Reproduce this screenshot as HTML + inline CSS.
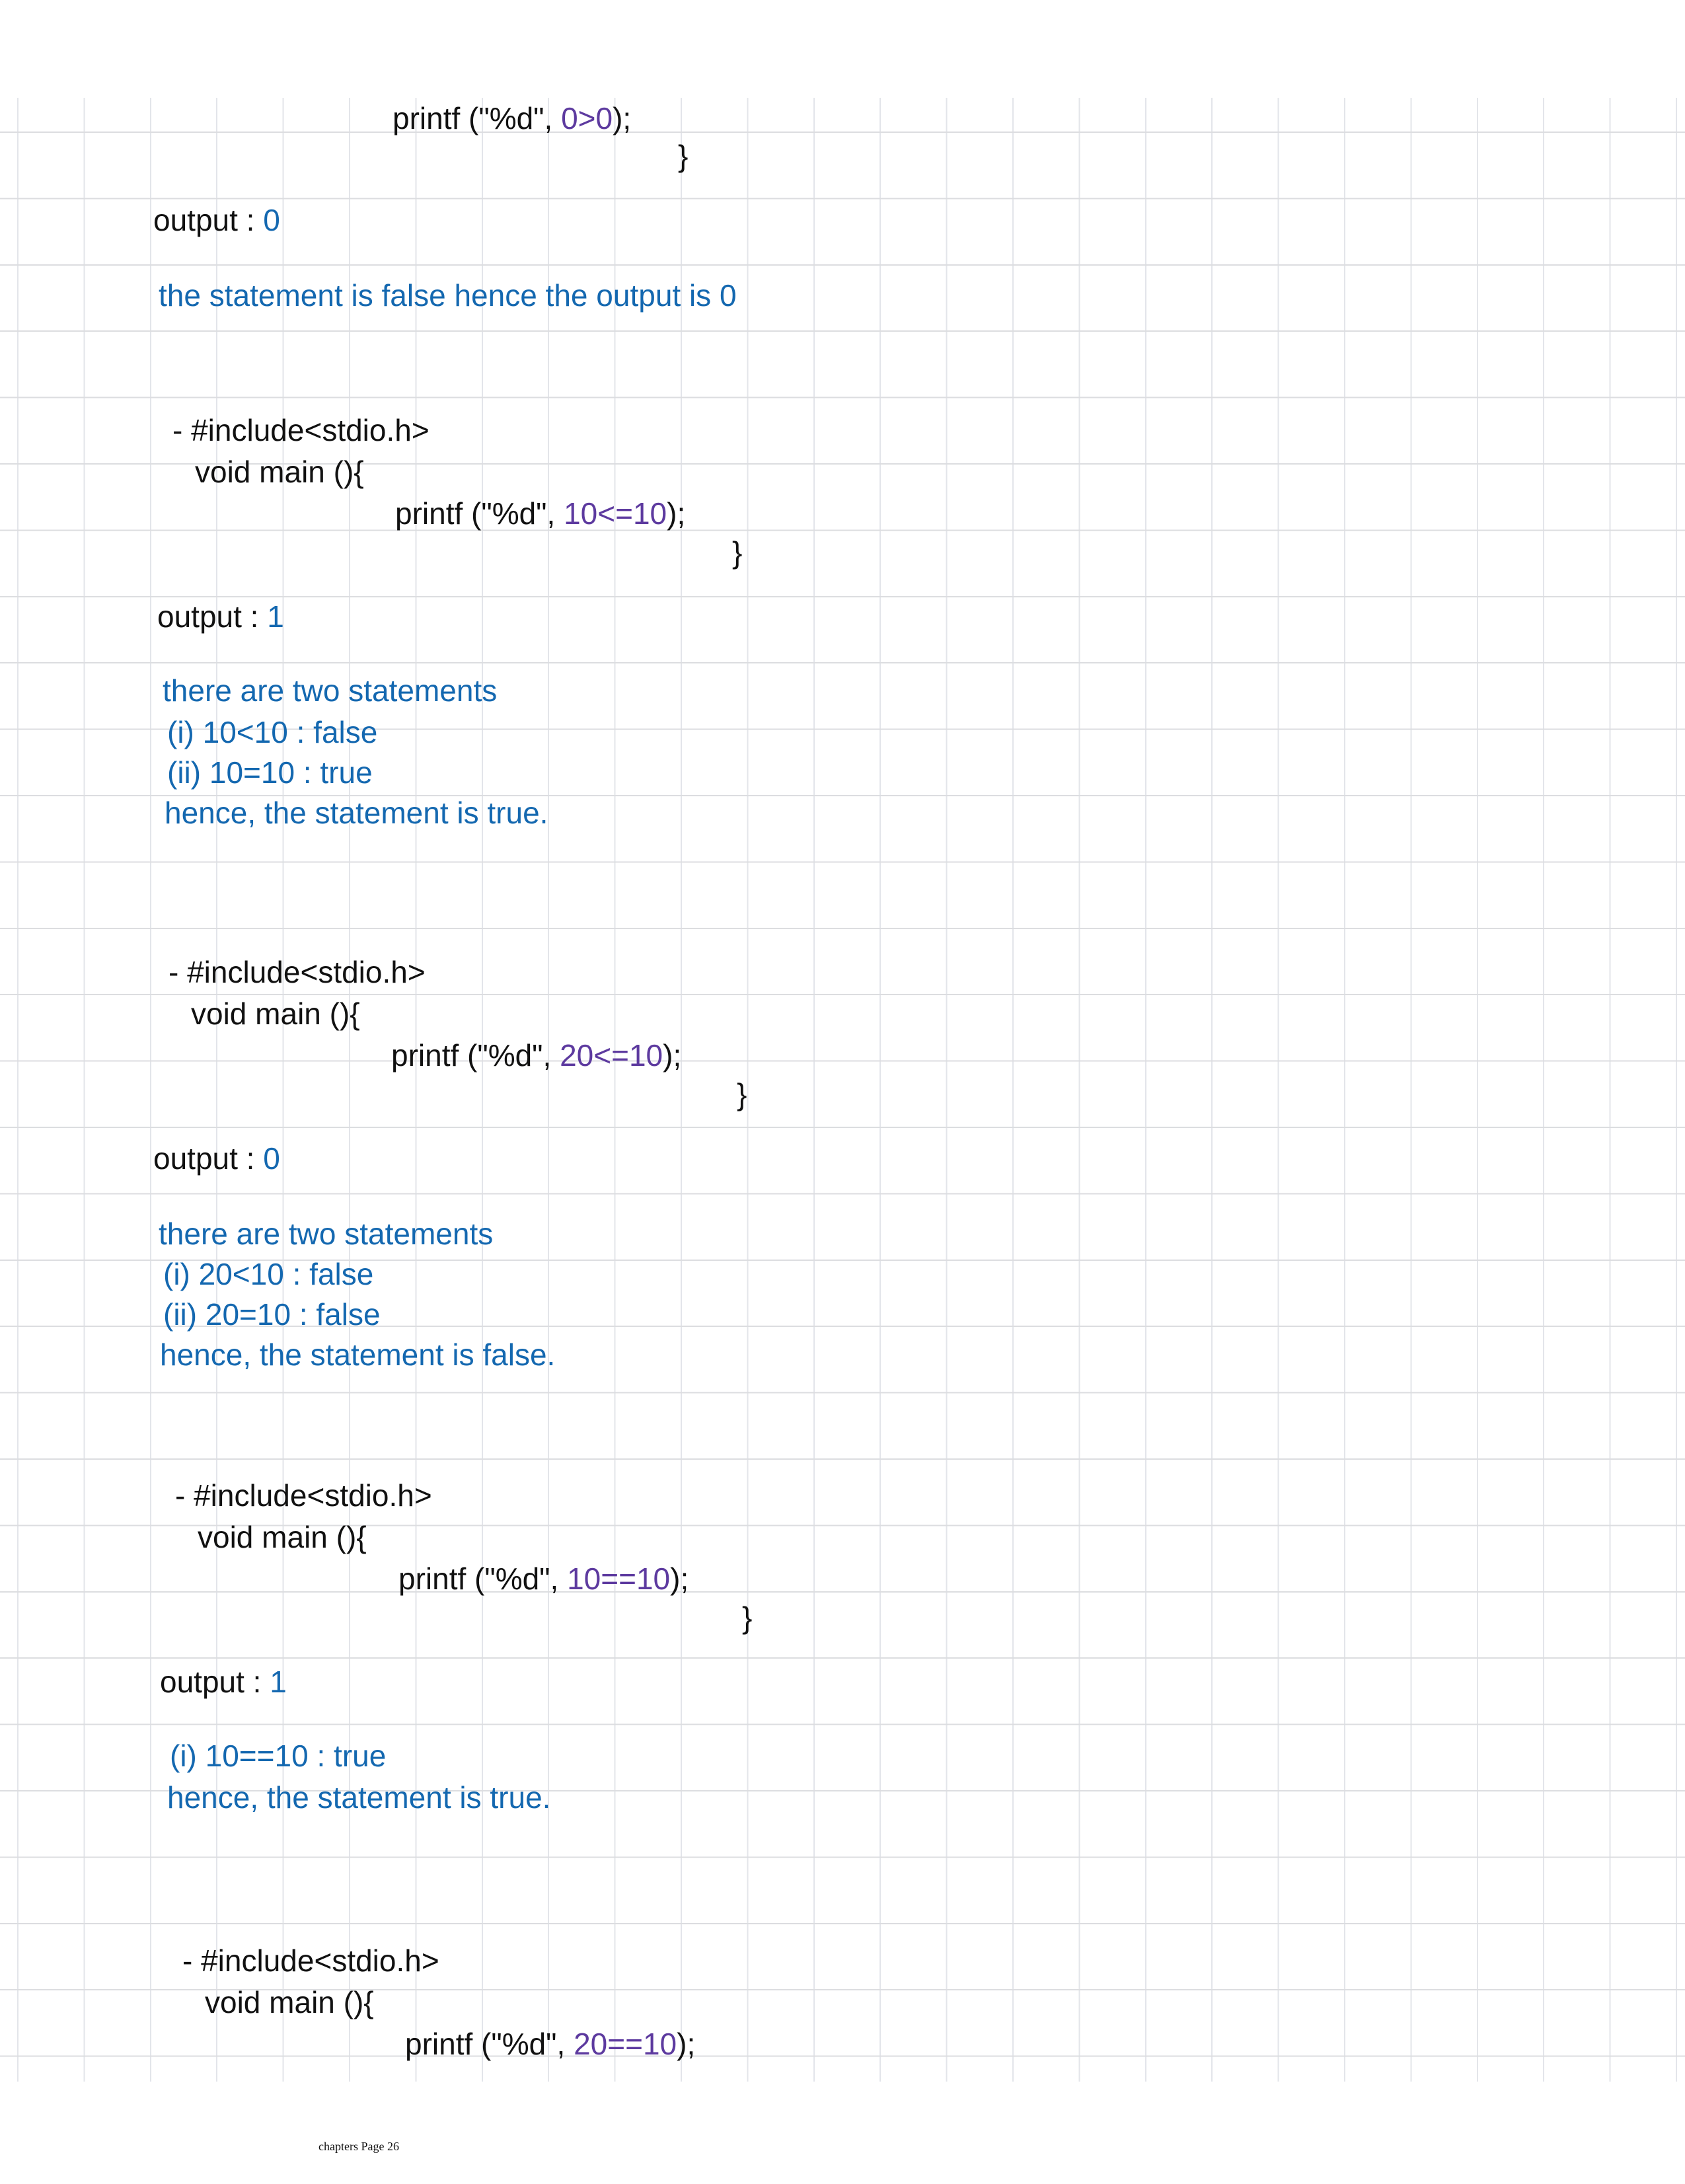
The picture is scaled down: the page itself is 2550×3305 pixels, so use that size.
<!DOCTYPE html>
<html><head><meta charset="utf-8"><style>
html,body{margin:0;padding:0;}
body{width:2550px;height:3305px;background:#fff;position:relative;overflow:hidden;}
.grid{position:absolute;left:0;top:148px;width:2550px;height:3002px;
background-image:
repeating-linear-gradient(to bottom, transparent 0, transparent 51px, #dcdde0 51px, #dcdde0 53px, transparent 53px, transparent 100.4px),
repeating-linear-gradient(to right, transparent 0, transparent 26px, #e3e5ea 26px, #e3e5ea 28px, transparent 28px, transparent 100.4px);}
.t{position:absolute;font-family:"Liberation Sans",sans-serif;font-size:46px;line-height:50px;color:#111;white-space:pre;}
.b{color:#1468b0;}
.p{color:#5d3a9f;}
.f{position:absolute;left:482px;top:3238px;font-family:"Liberation Serif",serif;font-size:18px;color:#111;}
</style></head><body>
<div class="grid"></div>

<div class="t" style="left:594px;top:154px">printf ("%d", <span class="p">0&gt;0</span>);</div>
<div class="t" style="left:1026px;top:211px">}</div>
<div class="t" style="left:232px;top:308px">output : <span class="b">0</span></div>
<div class="t b" style="left:240px;top:422px">the statement is false hence the output is 0</div>

<div class="t" style="left:261px;top:626px">- #include&lt;stdio.h&gt;</div>
<div class="t" style="left:295px;top:689px">void main (){</div>
<div class="t" style="left:598px;top:752px">printf ("%d", <span class="p">10&lt;=10</span>);</div>
<div class="t" style="left:1108px;top:811px">}</div>
<div class="t" style="left:238px;top:908px">output : <span class="b">1</span></div>
<div class="t b" style="left:246px;top:1020px">there are two statements</div>
<div class="t b" style="left:253px;top:1083px">(i) 10&lt;10 : false</div>
<div class="t b" style="left:253px;top:1144px">(ii) 10=10 : true</div>
<div class="t b" style="left:249px;top:1205px">hence, the statement is true.</div>

<div class="t" style="left:255px;top:1446px">- #include&lt;stdio.h&gt;</div>
<div class="t" style="left:289px;top:1509px">void main (){</div>
<div class="t" style="left:592px;top:1572px">printf ("%d", <span class="p">20&lt;=10</span>);</div>
<div class="t" style="left:1115px;top:1631px">}</div>
<div class="t" style="left:232px;top:1728px">output : <span class="b">0</span></div>
<div class="t b" style="left:240px;top:1842px">there are two statements</div>
<div class="t b" style="left:247px;top:1903px">(i) 20&lt;10 : false</div>
<div class="t b" style="left:247px;top:1964px">(ii) 20=10 : false</div>
<div class="t b" style="left:242px;top:2025px">hence, the statement is false.</div>

<div class="t" style="left:265px;top:2238px">- #include&lt;stdio.h&gt;</div>
<div class="t" style="left:299px;top:2301px">void main (){</div>
<div class="t" style="left:603px;top:2364px">printf ("%d", <span class="p">10==10</span>);</div>
<div class="t" style="left:1123px;top:2423px">}</div>
<div class="t" style="left:242px;top:2520px">output : <span class="b">1</span></div>
<div class="t b" style="left:257px;top:2632px">(i) 10==10 : true</div>
<div class="t b" style="left:253px;top:2695px">hence, the statement is true.</div>

<div class="t" style="left:276px;top:2942px">- #include&lt;stdio.h&gt;</div>
<div class="t" style="left:310px;top:3005px">void main (){</div>
<div class="t" style="left:613px;top:3068px">printf ("%d", <span class="p">20==10</span>);</div>

<div class="f">chapters Page 26</div>
</body></html>
